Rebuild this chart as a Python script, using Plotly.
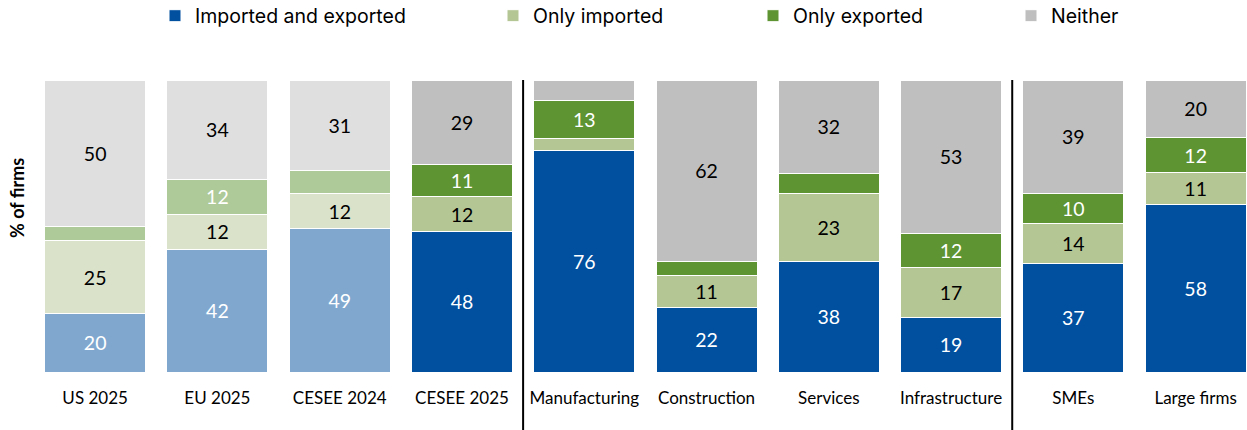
import plotly.graph_objects as go

# Share of firms by trade status (% of firms)
categories = ["US 2025", "EU 2025", "CESEE 2024", "CESEE 2025",
              "Manufacturing", "Construction", "Services", "Infrastructure",
              "SMEs", "Large firms"]
imported_and_exported = [20, 42, 49, 48, 76, 22, 38, 19, 37, 58]
only_imported = [25, 12, 12, 12, 4, 11, 23, 17, 14, 11]
only_exported = [5, 12, 8, 11, 13, 5, 7, 12, 10, 12]
neither = [50, 34, 31, 29, 7, 62, 32, 53, 39, 20]

series = [
    ("Imported and exported", imported_and_exported, "#00509F", "white"),
    ("Only imported", only_imported, "#B5C695", "black"),
    ("Only exported", only_exported, "#5E9432", "white"),
    ("Neither", neither, "#BFBFBF", "black"),
]

# comparison bars (first three) are drawn in a washed-out tint
n_faded = 3


def tint(hex_color, amount=0.5):
    h = hex_color.lstrip("#")
    r, g, b = (int(h[i:i + 2], 16) for i in (0, 2, 4))
    mix = lambda c: round(c + (255 - c) * amount)
    return "#{:02X}{:02X}{:02X}".format(mix(r), mix(g), mix(b))


def labels(vals):
    return [str(v) if v >= 10 else "" for v in vals]


label_font = "Lato, Calibri, sans-serif"
fig = go.Figure()

legend_ids = ["legend", "legend2", "legend3", "legend4"]
for k, (name, vals, color, tcolor) in enumerate(series):
    # faded comparison group
    fig.add_trace(go.Bar(
        x=categories[:n_faded], y=vals[:n_faded], name=name,
        marker=dict(color=tint(color), line=dict(color="white", width=1)),
        text=labels(vals[:n_faded]), textposition="inside",
        insidetextanchor="middle", textangle=0, constraintext="none",
        textfont=dict(family=label_font, size=19.5, color=tcolor),
        showlegend=False, hoverinfo="skip",
    ))
    # main group
    fig.add_trace(go.Bar(
        x=categories[n_faded:], y=vals[n_faded:], name=name,
        marker=dict(color=color, line=dict(color="white", width=1)),
        text=labels(vals[n_faded:]), textposition="inside",
        insidetextanchor="middle", textangle=0, constraintext="none",
        textfont=dict(family=label_font, size=19.5, color=tcolor),
        legend=legend_ids[k], showlegend=True,
    ))

W, H = 1247, 430
ml, mr, mt, mb = 34, 0, 80, 58
pw = W - ml - mr
ph = H - mt - mb

# legend entries placed individually along the top
legend_text_x = [195, 533, 793, 1051]
legend_cfg = {}
for lid, tx in zip(legend_ids, legend_text_x):
    legend_cfg[lid] = dict(
        x=(tx - 40 - ml) / pw, xanchor="left",
        yref="container", y=1 - 16 / H, yanchor="middle",
        orientation="h", bgcolor="rgba(0,0,0,0)",
        font=dict(family="Inter, Roboto, sans-serif", size=19.5, color="#000000"),
        itemwidth=30,
    )

fig.update_layout(
    width=W, height=H,
    margin=dict(l=ml, r=mr, t=mt, b=mb, autoexpand=False),
    barmode="stack", barnorm="percent", bargap=0.174,
    plot_bgcolor="white", paper_bgcolor="white",
    **legend_cfg,
    xaxis=dict(range=[-0.5, 9.42], showgrid=False, showline=False,
               zeroline=False, ticks="", ticklabelstandoff=14,
               tickfont=dict(family=label_font, size=17, color="#000000")),
    yaxis=dict(range=[0, 100], visible=False),
    annotations=[dict(
        text="<b>% of firms</b>", xref="paper", yref="paper",
        x=(17 - ml) / pw, y=(H - mb - 198) / ph,
        xanchor="center", yanchor="middle", textangle=-90, showarrow=False,
        font=dict(family=label_font, size=18, color="#000000"),
    )],
    shapes=[
        dict(type="line", xref="x", yref="paper", x0=xs, x1=xs,
             y0=-mb / ph, y1=1, line=dict(color="black", width=2))
        for xs in (3.5, 7.5)
    ],
)

fig.write_html("out.html")
